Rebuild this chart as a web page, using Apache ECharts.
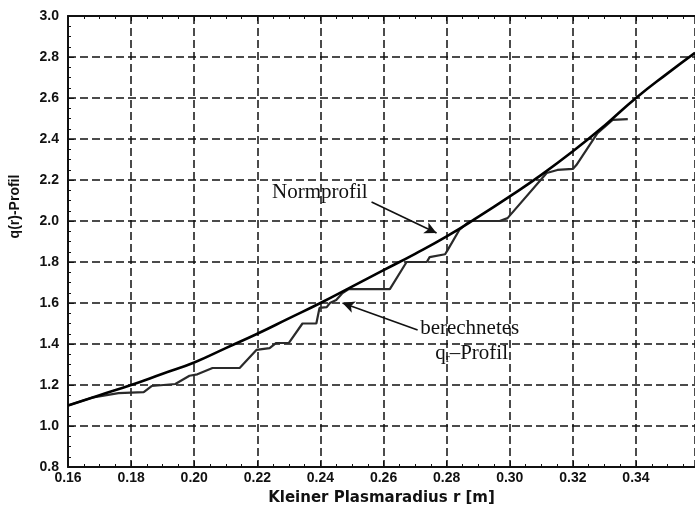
<!DOCTYPE html>
<html>
<head>
    <meta http-equiv="Content-Type" content="text/html; charset=utf-8">
    <title>q(r)-Profil</title>
    <script src="https://cdn.jsdelivr.net/npm/echarts@6/dist/echarts.min.js"></script>
    <style>
        html, body { margin: 0; padding: 0; background: #fff; }
        #main-0 { width: 695px; height: 511px; }
    </style>
</head>
<body>
    <div id="main-0"></div>
<script>
    // Normprofil (glatte Kurve)
    var normR = [0.16, 0.17, 0.18, 0.19, 0.20, 0.21, 0.22, 0.23, 0.24, 0.25, 0.26, 0.27, 0.28, 0.29, 0.30, 0.31, 0.32, 0.33, 0.34, 0.35, 0.3587];
    var normQ = [1.10, 1.15, 1.20, 1.255, 1.31, 1.38, 1.45, 1.525, 1.60, 1.68, 1.76, 1.84, 1.925, 2.02, 2.12, 2.225, 2.34, 2.465, 2.60, 2.72, 2.82];

    // berechnetes q-Profil (Stufen)
    var calcR = [0.160, 0.168, 0.176, 0.184, 0.1865, 0.194, 0.1985, 0.201, 0.2058, 0.2144, 0.2197, 0.2239, 0.226, 0.230, 0.2343, 0.2387, 0.2397, 0.242, 0.243, 0.245, 0.247, 0.249, 0.262, 0.2673, 0.2737, 0.2746, 0.2795, 0.2803, 0.284, 0.2873, 0.2968, 0.2993, 0.3117, 0.3151, 0.320, 0.3211, 0.3278, 0.3326, 0.3374];
    var calcQ = [1.100, 1.140, 1.160, 1.165, 1.195, 1.205, 1.245, 1.252, 1.283, 1.283, 1.371, 1.380, 1.405, 1.405, 1.500, 1.500, 1.576, 1.580, 1.600, 1.615, 1.649, 1.668, 1.668, 1.800, 1.800, 1.824, 1.838, 1.858, 1.956, 2.000, 2.000, 2.014, 2.234, 2.249, 2.254, 2.273, 2.429, 2.493, 2.497];

    var xMin = 0.16, xMax = 0.3587, xStep = 0.02;
    var yMin = 0.8, yMax = 3.0, yStep = 0.2;

    function pairs(xs, ys) {
        var out = [];
        for (var i = 0; i < xs.length; i++) {
            out.push([xs[i], ys[i]]);
        }
        return out;
    }

    var tickFont = {
        color: '#111',
        fontFamily: 'Liberation Sans',
        fontWeight: 'bold',
        fontSize: 14
    };
    var serif = 'Liberation Serif';

    var option = {
        backgroundColor: '#fff',
        animation: false,
        grid: { left: 68, top: 16, right: 0, bottom: 44 },
        xAxis: [{
            type: 'value',
            min: xMin,
            max: xMax,
            interval: xStep,
            name: 'Kleiner Plasmaradius r [m]',
            nameLocation: 'middle',
            nameGap: 24,
            nameTextStyle: { color: '#111', fontFamily: 'DejaVu Sans', fontWeight: 'bold', fontSize: 15 },
            axisLine: { show: true, lineStyle: { color: '#111', width: 2 } },
            axisTick: { show: true, inside: true, length: 6, lineStyle: { color: '#111' } },
            minorTick: { show: true, splitNumber: 4, length: 3, lineStyle: { color: '#111' } },
            axisLabel: {
                showMaxLabel: false,
                margin: 4,
                formatter: function (v) { return v.toFixed(2); },
                color: tickFont.color, fontFamily: tickFont.fontFamily, fontWeight: tickFont.fontWeight, fontSize: tickFont.fontSize
            },
            splitLine: { show: true, lineStyle: { color: '#111', width: 1.5, type: [8, 4] } }
        }, {
            // obere Rahmenlinie
            type: 'value',
            position: 'top',
            min: xMin,
            max: xMax,
            interval: xStep,
            axisLine: { show: true, lineStyle: { color: '#111', width: 2 } },
            axisTick: { show: true, inside: true, length: 5, lineStyle: { color: '#111' } },
            minorTick: { show: true, splitNumber: 4, length: 3, lineStyle: { color: '#111' } },
            axisLabel: { show: false },
            splitLine: { show: false }
        }],
        yAxis: {
            type: 'value',
            min: yMin,
            max: yMax,
            interval: yStep,
            name: 'q(r)-Profil',
            nameLocation: 'middle',
            nameGap: 46,
            nameTextStyle: { color: '#111', fontFamily: 'Liberation Sans', fontWeight: 'bold', fontSize: 14, padding: [0, 0, 0, 70] },
            axisLine: { show: true, lineStyle: { color: '#111', width: 2 } },
            axisTick: { show: true, inside: true, length: 6, lineStyle: { color: '#111' } },
            minorTick: { show: true, splitNumber: 4, length: 3, lineStyle: { color: '#111' } },
            axisLabel: {
                margin: 9,
                formatter: function (v) { return v.toFixed(1); },
                color: tickFont.color, fontFamily: tickFont.fontFamily, fontWeight: tickFont.fontWeight, fontSize: tickFont.fontSize
            },
            splitLine: { show: true, lineStyle: { color: '#111', width: 1.5, type: [8, 4] } }
        },
        series: [
            {
                name: 'Normprofil',
                type: 'line',
                smooth: true,
                symbol: 'none',
                data: pairs(normR, normQ),
                lineStyle: { color: '#000', width: 2.6 },
                z: 3,
                markPoint: {
                    silent: true,
                    symbol: 'circle',
                    symbolSize: 0,
                    label: { show: true, position: 'inside', color: '#111', fontFamily: serif, fontSize: 21, formatter: '{b}' },
                    data: [{ name: 'Normprofil', coord: [0.2398, 2.141] }]
                },
                markLine: {
                    silent: true,
                    symbol: ['none', 'arrow'],
                    symbolSize: [9, 12],
                    label: { show: false },
                    lineStyle: { color: '#111', width: 1.6, type: 'solid' },
                    data: [[{ coord: [0.2562, 2.093] }, { coord: [0.2768, 1.941] }]]
                }
            },
            {
                name: 'berechnetes q-Profil',
                type: 'line',
                symbol: 'none',
                data: pairs(calcR, calcQ),
                lineStyle: { color: '#2a2a2a', width: 2.2 },
                z: 2,
                markPoint: {
                    silent: true,
                    symbol: 'circle',
                    symbolSize: 0,
                    label: {
                        show: true, position: 'inside', color: '#111', fontFamily: serif, fontSize: 21,
                        rich: {
                            m: { fontFamily: serif, fontSize: 21, color: '#111' },
                            s: { fontFamily: serif, fontSize: 12, color: '#111', padding: [12, 0, 0, 0] }
                        }
                    },
                    data: [
                        { name: 'berechnetes', coord: [0.2873, 1.478], label: { formatter: '{m|berechnetes}' } },
                        { name: 'q-Profil', coord: [0.2879, 1.356], label: { formatter: '{m|q}{s|r}{m|–Profil}' } }
                    ]
                },
                markLine: {
                    silent: true,
                    symbol: ['none', 'arrow'],
                    symbolSize: [9, 12],
                    label: { show: false },
                    lineStyle: { color: '#111', width: 1.6, type: 'solid' },
                    data: [[{ coord: [0.2708, 1.468] }, { coord: [0.2470, 1.600] }]]
                }
            }
        ]
    };

    // Diagramm zeichnen
    var myChart = echarts.init(document.getElementById('main-0'));
    myChart.setOption(option);
</script>
</body>
</html>
